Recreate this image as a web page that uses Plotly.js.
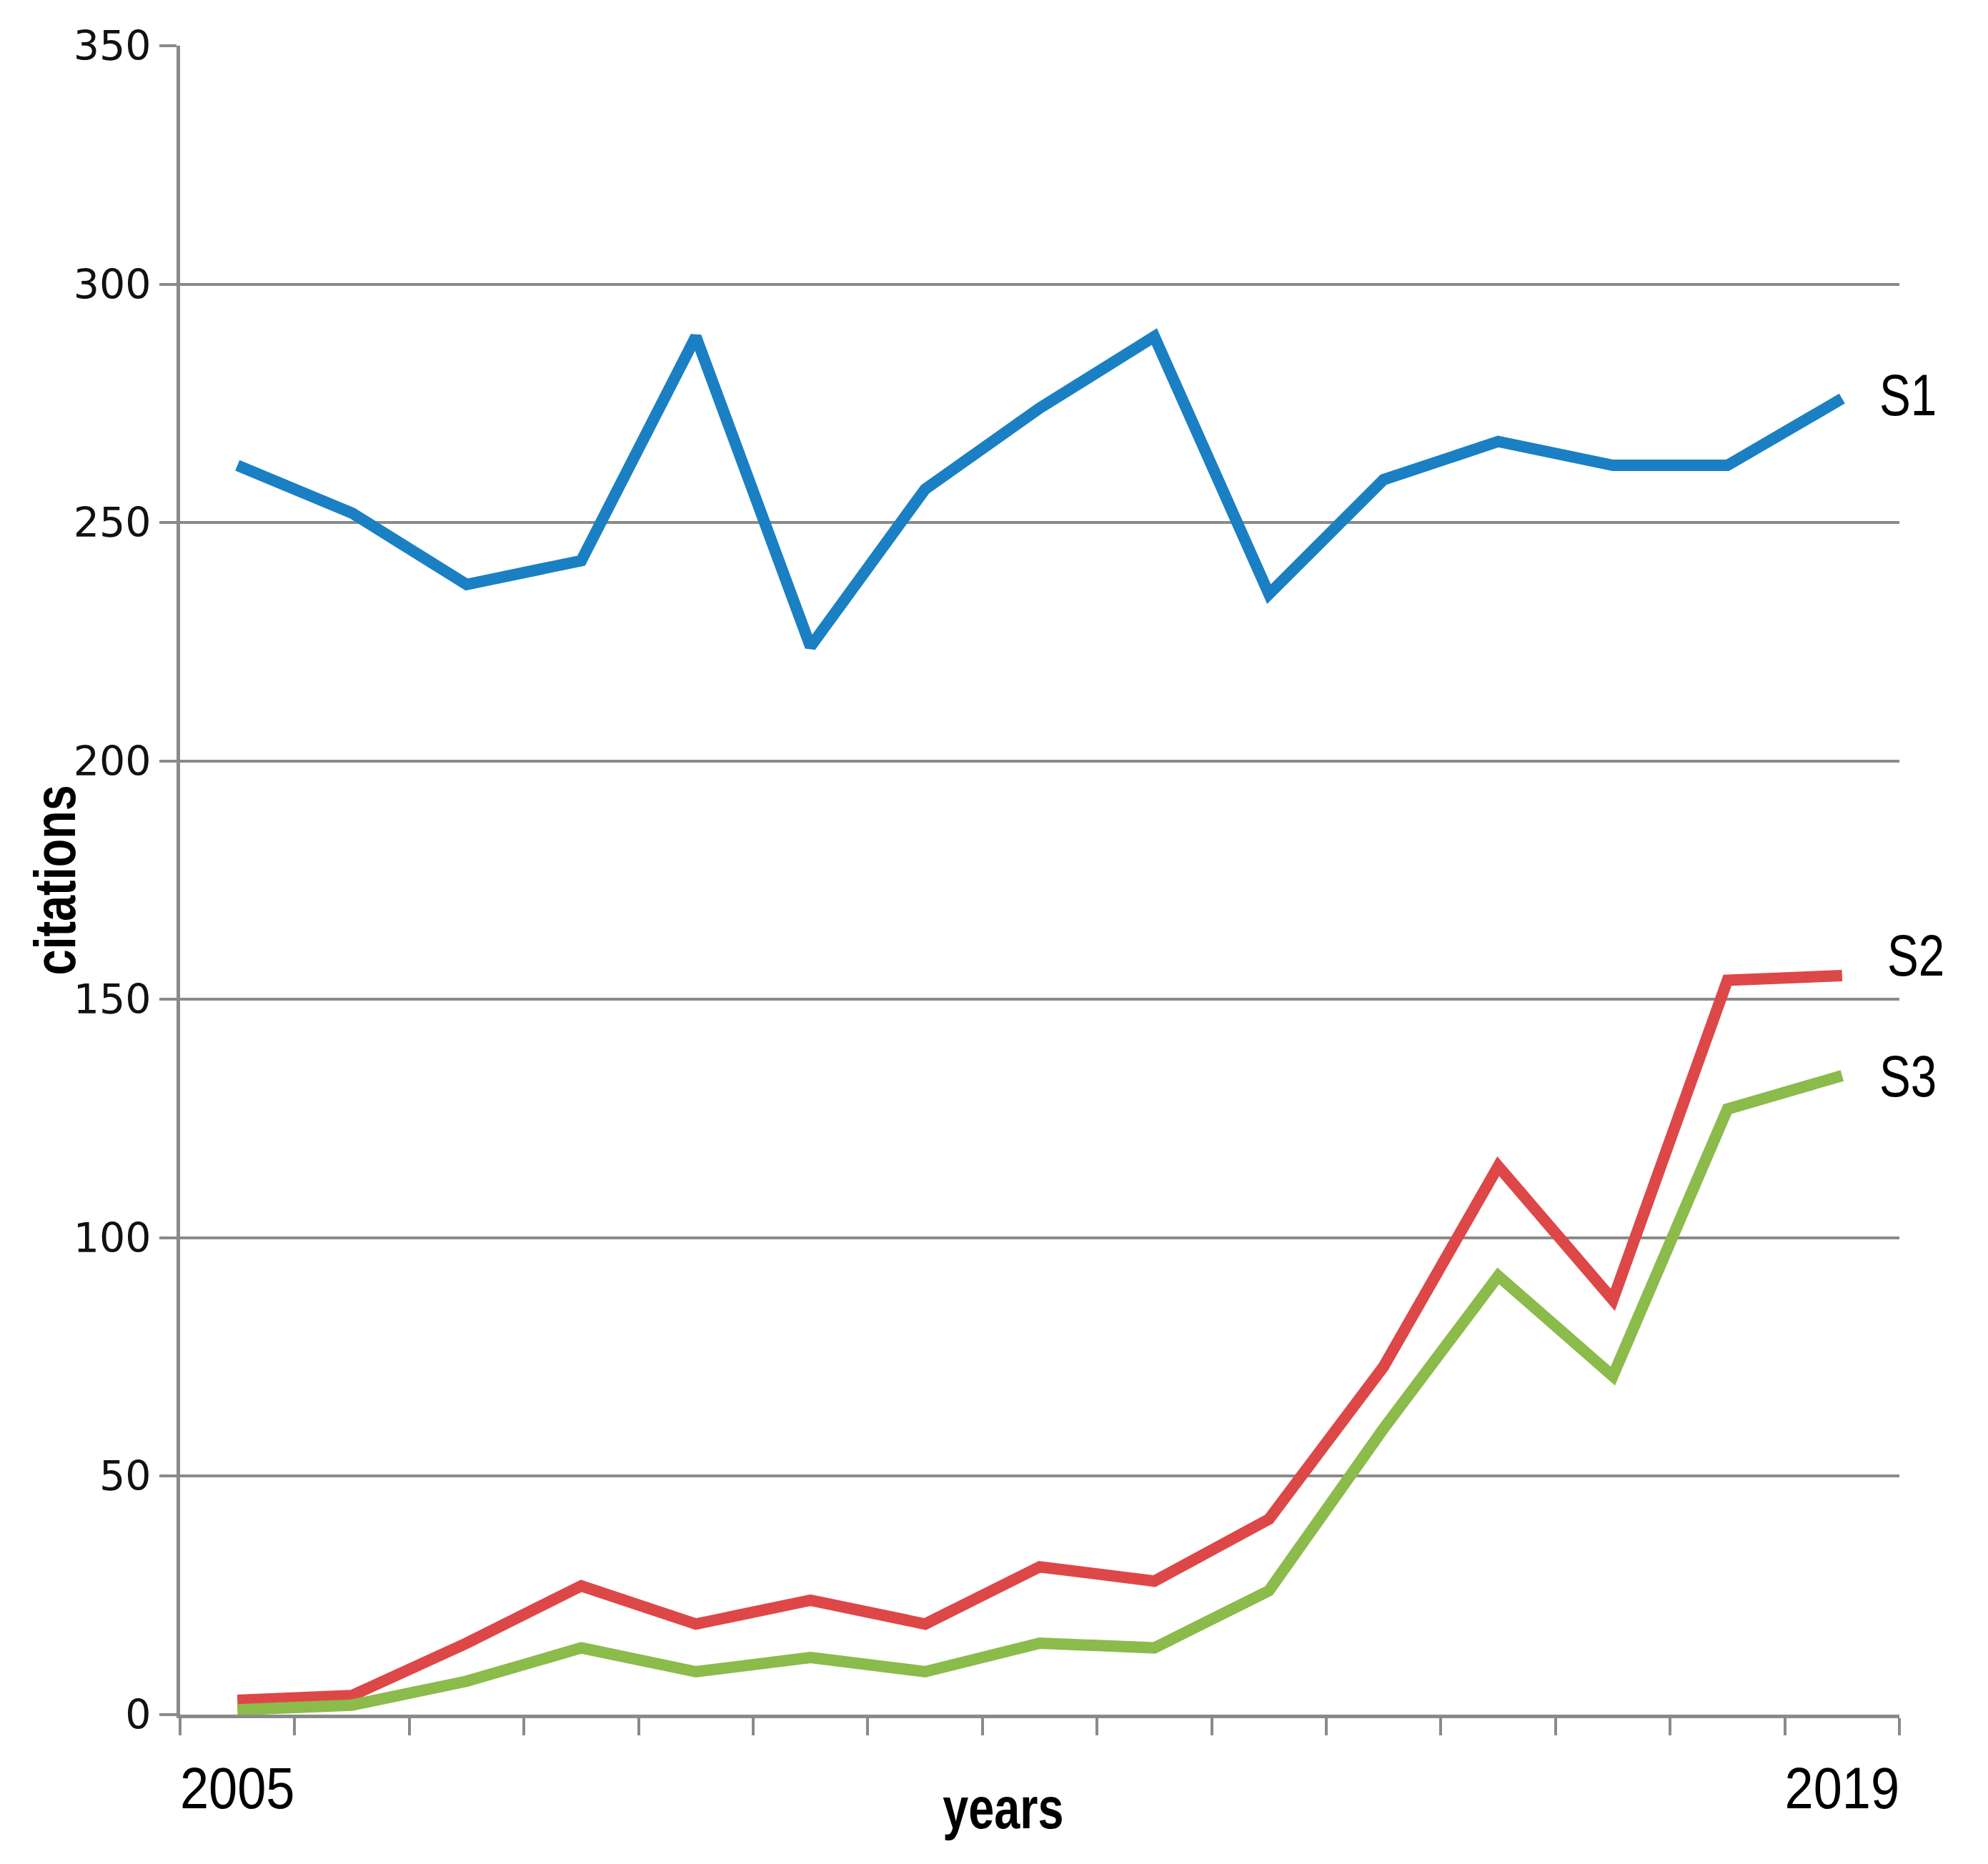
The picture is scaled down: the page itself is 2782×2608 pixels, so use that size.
<!DOCTYPE html>
<html>
<head>
<meta charset="utf-8">
<script src="https://cdn.plot.ly/plotly-3.0.1.min.js"></script>
<style>
  body { margin: 0; background: #fff; }
  #chart { width: 2782px; height: 2608px; }
</style>
</head>
<body>
<div id="chart"></div>
<script>
// values
var years = ['2005', '2006', '2007', '2008', '2009', '2010', '2011', '2012',
             '2013', '2014', '2015', '2016', '2017', '2018', '2019']
var xLabels = ['2005', '', '', '', '', '', '', '', '', '', '', '', '', '', '2019']
var s1 = [262, 252, 237, 242, 289, 224, 257, 274, 289, 235, 259, 267, 262, 262, 276]
var s2 = [3, 4, 15, 27, 19, 24, 19, 31, 28, 41, 73, 115, 87, 154, 155]
var s3 = [1, 2, 7, 14, 9, 12, 9, 15, 14, 26, 60, 92, 71, 127, 134]
var seriesNames = ['S1', 'S2', 'S3']
var colors = ['#1a80c3', '#de4747', '#8bbb4a']

// no narrow face installed, so Liberation Sans gets squeezed after drawing
var narrow = '"Liberation Sans", Arial, sans-serif'
var gray = '#8a8a8a'

function squeeze(selector, k) {
    document.querySelectorAll(selector).forEach(function (t) {
        var w = t.getComputedTextLength()
        if (w > 0) {
            t.setAttribute('textLength', w * k)
            t.setAttribute('lengthAdjust', 'spacingAndGlyphs')
        }
    })
}

function draw() {
    var all = [s1, s2, s3]
    var data = all.map(function (vals, i) {
        return {
            x: years, y: vals, type: 'scatter', mode: 'lines',
            name: seriesNames[i], hoverinfo: 'none',
            line: {color: colors[i], width: 16}
        }
    })

    // end labels sit just right of the last point of each line
    var shifts = [[40, 5], [51, 28], [40, 0]]
    var annotations = all.map(function (vals, i) {
        return {
            x: years.length - 1, y: vals[vals.length - 1], xref: 'x', yref: 'y',
            text: seriesNames[i], showarrow: false, xanchor: 'left', yanchor: 'middle',
            xshift: shifts[i][0], yshift: shifts[i][1],
            font: {family: narrow, size: 82, color: '#000'}
        }
    })
    annotations.push({
        text: 'citations', textangle: -90, showarrow: false,
        xref: 'paper', yref: 'paper', x: -0.073, y: 0.5,
        xanchor: 'center', yanchor: 'middle',
        font: {family: narrow, size: 81, weight: 'bold', color: '#000'}
    })
    annotations.push({
        text: 'years', showarrow: false,
        xref: 'paper', yref: 'paper', x: 0.4788, y: -0.056,
        xanchor: 'center', yanchor: 'middle',
        font: {family: narrow, size: 81, weight: 'bold', color: '#000'}
    })

    var layout = {
        width: 2782, height: 2608,
        margin: {l: 252, r: 124, t: 64, b: 209, pad: 0},
        paper_bgcolor: '#fff', plot_bgcolor: '#fff',
        showlegend: false,
        xaxis: {
            type: 'category', range: [-0.5, years.length - 0.5],
            tickmode: 'array', tickvals: years, ticktext: xLabels, tickangle: 0,
            tickson: 'boundaries', ticks: 'outside', ticklen: 24, tickwidth: 4, tickcolor: gray,
            showline: true, linecolor: gray, linewidth: 5,
            showgrid: false, zeroline: false,
            ticklabelstandoff: 28,
            tickfont: {family: narrow, size: 82, color: '#000'}
        },
        yaxis: {
            range: [0, 350], dtick: 50, tick0: 0,
            ticks: 'outside', ticklen: 24, tickwidth: 4, tickcolor: gray,
            showline: true, linecolor: gray, linewidth: 5,
            showgrid: true, gridcolor: gray, gridwidth: 4, zeroline: false,
            tickfont: {family: 'DejaVu Sans', size: 57, color: '#111'}
        },
        annotations: annotations
    }

    Plotly.newPlot('chart', data, layout, {staticPlot: true}).then(function () {
        squeeze('.xtick text', 0.88)
        squeeze('.annotation-text', 0.8)
    })
}

try {
    draw()
}
catch (err) {
    console.error(err)
}
</script>
</body>
</html>
